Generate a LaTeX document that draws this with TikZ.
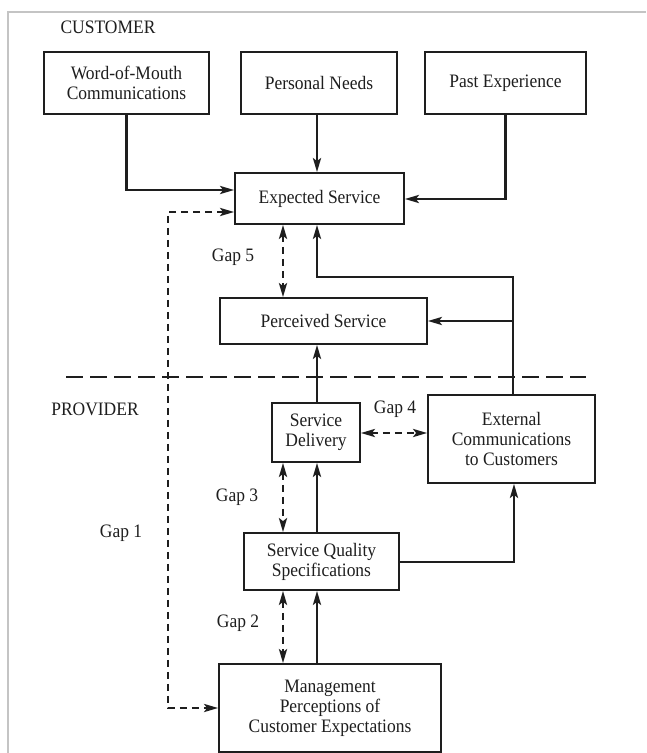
\documentclass[tikz,border=0pt]{standalone}
\usepackage{fontspec}
\setmainfont{Liberation Serif}[FakeStretch=0.92]
\usetikzlibrary{arrows.meta}
\definecolor{ink}{HTML}{1E1E1E}
\definecolor{frame}{HTML}{C4C4C4}
\begin{document}
\begin{tikzpicture}[x=1pt,y=-1pt,
  box/.style={draw=ink, line width=1.7pt, inner sep=0pt, align=center,
    font=\fontsize{19}{20}\selectfont, text=ink},
  lbl/.style={inner sep=0pt, font=\fontsize{19}{20}\selectfont, text=ink},
  tip/.style={-{Stealth[length=14pt,width=8pt,inset=3pt]}},
  solidarrow/.style={draw=ink, line width=2.6pt, tip},
  gaparrow/.style={draw=ink, line width=2.6pt, dash pattern=on 7.5pt off 4.5pt,
    {Stealth[length=14pt,width=8pt,inset=3pt]}-{Stealth[length=14pt,width=8pt,inset=3pt]}},
  sepline/.style={draw=ink, line width=2.8pt, dash pattern=on 17pt off 7pt}
]
\useasboundingbox (0,0) rectangle (646,753);
\fill[white] (0,0) rectangle (646,753);
% frame
\draw[frame, line width=2pt] (8,753) -- (8,12) -- (646,12);

% labels
\node[lbl] (customer) at (108,27) {CUSTOMER};
\node[lbl] (provider) at (95,409) {PROVIDER};
\node[lbl] (gap5) at (233,257) {Gap 5};
\node[lbl] (gap4) at (395,409) {Gap 4};
\node[lbl] (gap3) at (237,497) {Gap 3};
\node[lbl] (gap1) at (121,533) {Gap 1};
\node[lbl] (gap2) at (238,623) {Gap 2};

% boxes
\node[box, minimum width=165pt, minimum height=62pt] (word) at (126.5,83) {Word-of-Mouth\\Communications};
\node[box, minimum width=156pt, minimum height=62pt] (personal) at (319,83) {Personal Needs};
\node[box, minimum width=161pt, minimum height=62pt] (past) at (505.5,83) {Past Experience};
\node[box, minimum width=169pt, minimum height=51pt] (expected) at (319.5,198.5) {Expected Service};
\node[box, minimum width=207pt, minimum height=46pt] (perceived) at (323.5,321) {Perceived Service};
\node[box, minimum width=88pt, minimum height=59pt] (delivery) at (316,432.5) {Service\\Delivery};
\node[box, minimum width=167pt, minimum height=88pt] (external) at (511.5,439) {External\\Communications\\to Customers};
\node[box, minimum width=155pt, minimum height=57pt] (sqs) at (321.5,561.5) {Service Quality\\Specifications};
\node[box, minimum width=222pt, minimum height=88pt] (mgmt) at (330,708) {Management\\Perceptions of\\Customer Expectations};

% helper coordinates
\coordinate (cx) at (317,0);
\coordinate (gx) at (283,0);
\coordinate (wa) at (0,190);
\coordinate (pa) at (0,199);
\coordinate (ex) at (513,277);
\coordinate (gy) at (0,433);
\coordinate (sq) at (514,562);
\coordinate (g1a) at (168,212);
\coordinate (g1b) at (168,708);
\coordinate (sepl) at (66,377);
\coordinate (sepr) at (586,377);

% separator
\draw[sepline] (sepl) -- (sepr);

% customer inputs
\draw[solidarrow] (word.south) -- (word.south |- wa) -- (expected.west |- wa);
\draw[solidarrow] (personal.south -| cx) -- (expected.north -| cx);
\draw[solidarrow] (past.south) -- (past.south |- pa) -- (expected.east |- pa);

% external communications loop
\draw[solidarrow] (external.north -| ex) -- (ex) -- (ex -| cx) -- (expected.south -| cx);
\draw[solidarrow] (ex |- perceived.east) -- (perceived.east);

% provider flows
\draw[solidarrow] (delivery.north -| cx) -- (perceived.south -| cx);
\draw[solidarrow] (sqs.north -| cx) -- (delivery.south -| cx);
\draw[solidarrow] (mgmt.north -| cx) -- (sqs.south -| cx);
\draw[solidarrow] (sqs.east |- sq) -- (sq) -- (external.south -| sq);

% gaps
\draw[gaparrow] (expected.west |- g1a) -- (g1a) -- (g1b) -- (mgmt.west |- g1b);
\draw[gaparrow] (expected.south -| gx) -- (perceived.north -| gx);
\draw[gaparrow] (delivery.south -| gx) -- (sqs.north -| gx);
\draw[gaparrow] (sqs.south -| gx) -- (mgmt.north -| gx);
\draw[gaparrow] (delivery.east |- gy) -- (external.west |- gy);
\end{tikzpicture}
\end{document}
